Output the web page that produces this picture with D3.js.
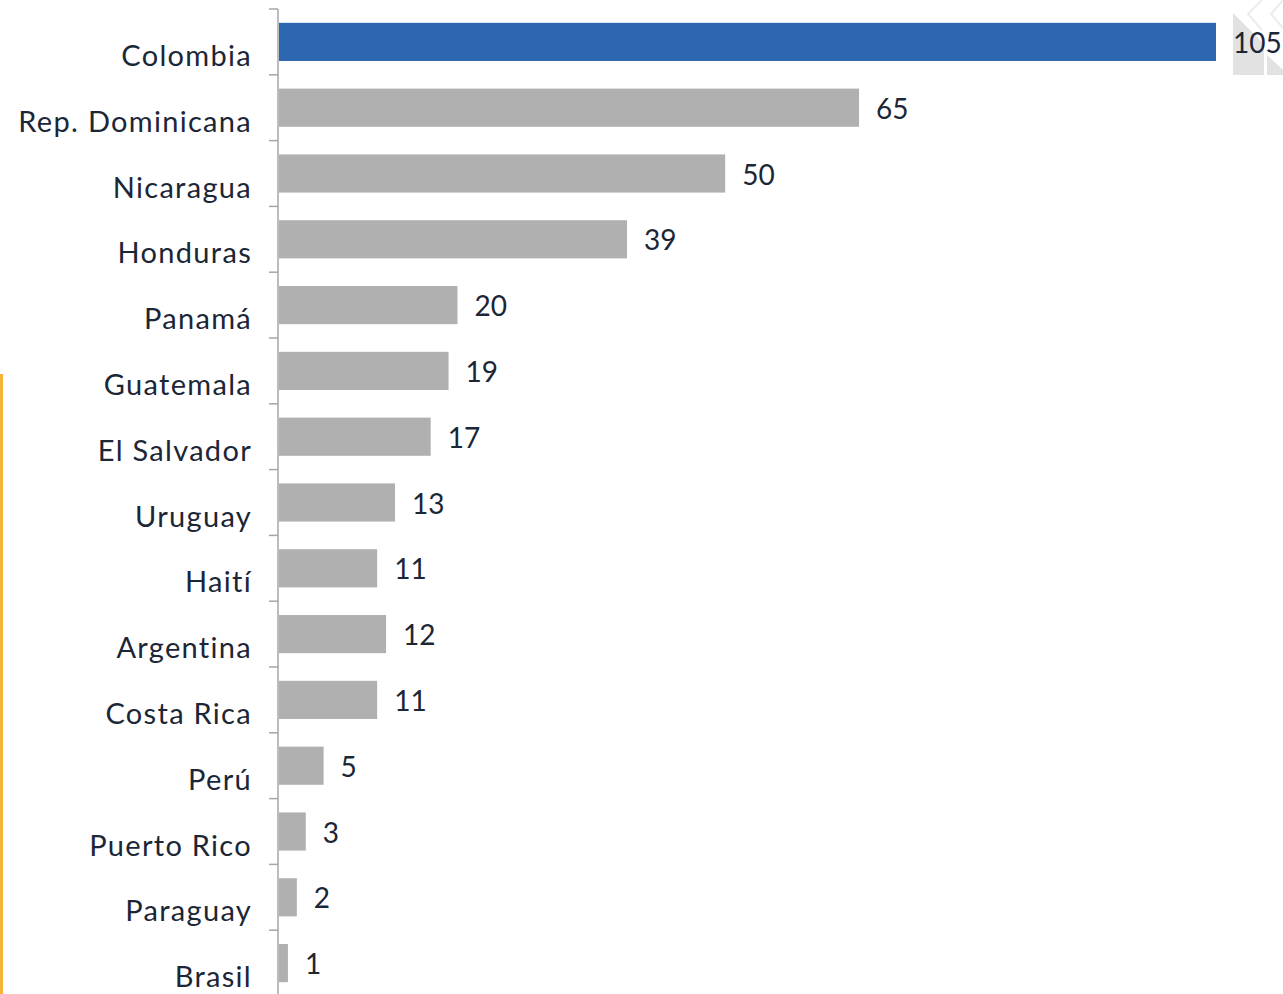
<!DOCTYPE html>
<html>
<head>
<meta charset="utf-8">
<script src="https://cdn.jsdelivr.net/npm/d3@7"></script>
<style>
  html, body { margin: 0; padding: 0; background: #fff; overflow: hidden; }
</style>
</head>
<body>
<div id="chart"></div>
<script>
var countries = ["Colombia", "Rep. Dominicana", "Nicaragua", "Honduras", "Panamá", "Guatemala",
    "El Salvador", "Uruguay", "Haití", "Argentina", "Costa Rica", "Perú", "Puerto Rico", "Paraguay", "Brasil"];
var values = [105, 65, 50, 39, 20, 19, 17, 13, 11, 12, 11, 5, 3, 2, 1];
var highlight = "Colombia";

var width = 1283, height = 994;
var axisX = 278;

var svg = d3.select("#chart")
    .append("svg")
    .attr("width", width)
    .attr("height", height);

var y = d3.scaleBand()
    .domain(countries)
    .range([9, 996])
    .paddingInner(0.42)
    .paddingOuter(0.21);

var x = d3.scaleLinear()
    .domain([0, 105])
    .range([axisX + 1, 1216]);

// orange strip on the left edge
svg.append("rect")
    .attr("x", 0).attr("y", 374)
    .attr("width", 3).attr("height", height - 374)
    .attr("fill", "#f6b33c");

// corner decoration, top right
svg.append("polygon")
    .attr("points", "1233,13 1264,44 1264,75 1233,75")
    .attr("fill", "#e2e2e2");
svg.append("polygon")
    .attr("points", "1267,55 1283,70 1283,75 1267,75")
    .attr("fill", "#e2e2e2");
svg.append("polyline")
    .attr("points", "1262,0 1248,14 1262,30")
    .attr("fill", "none").attr("stroke", "#ececec").attr("stroke-width", 2);
svg.append("polyline")
    .attr("points", "1283,0 1271,14 1283,28")
    .attr("fill", "none").attr("stroke", "#ececec").attr("stroke-width", 2);

// bars
svg.selectAll("rect.bar")
    .data(countries)
    .enter()
    .append("rect")
    .attr("class", "bar")
    .attr("x", x(0))
    .attr("y", function(d) { return y(d); })
    .attr("width", function(d, i) { return x(values[i]) - x(0); })
    .attr("height", y.bandwidth())
    .attr("fill", function(d) { return d === highlight ? "#2e67b1" : "#b0b0b0"; });

// axis line + ticks between categories
var step = y.step();
var bounds = countries.map(function(d) { return y(d) - step * y.paddingInner() / 2; });
bounds.push(bounds[bounds.length - 1] + step);

svg.append("line")
    .attr("x1", axisX).attr("x2", axisX)
    .attr("y1", bounds[0]).attr("y2", height)
    .attr("stroke", "#a6a6a6").attr("stroke-width", 1.5);

svg.selectAll("line.tick")
    .data(bounds)
    .enter()
    .append("line")
    .attr("class", "tick")
    .attr("x1", axisX - 9).attr("x2", axisX)
    .attr("y1", function(d) { return d; })
    .attr("y2", function(d) { return d; })
    .attr("stroke", "#a6a6a6").attr("stroke-width", 1.5);

// category labels
svg.selectAll("text.cat")
    .data(countries)
    .enter()
    .append("text")
    .attr("class", "cat")
    .attr("x", 252)
    .attr("y", function(d) { return y(d) + y.bandwidth() / 2 + 24; })
    .style("text-anchor", "end")
    .attr("font-family", "Lato, sans-serif")
    .attr("font-size", "29px")
    .attr("letter-spacing", "1.3px")
    .attr("fill", "#1b2636")
    .text(function(d) { return d; });

// value labels
svg.selectAll("text.val")
    .data(countries)
    .enter()
    .append("text")
    .attr("class", "val")
    .attr("x", function(d, i) { return x(values[i]) + 17; })
    .attr("y", function(d) { return y(d) + y.bandwidth() / 2 + 11; })
    .attr("font-family", "Lato, sans-serif")
    .attr("font-size", "28px")
    .attr("fill", "#1b2636")
    .text(function(d, i) { return values[i]; });
</script>
</body>
</html>
